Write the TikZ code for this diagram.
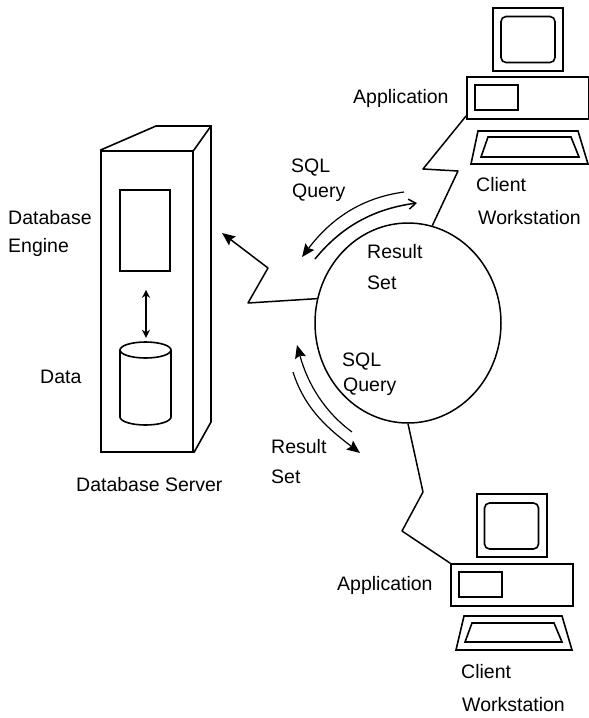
\documentclass[tikz,border=0pt]{standalone}
\usepackage{fontspec}
\setmainfont{Liberation Sans}
\usetikzlibrary{positioning}
\usetikzlibrary{arrows.meta}
\usetikzlibrary{shapes.geometric}

\begin{document}
\begin{tikzpicture}[
        x=1pt, y=-1pt,
        box/.style={rectangle, draw=black, line width=1.6pt, inner sep=0pt},
        monitor/.style={box, minimum width=70pt, minimum height=63pt},
        screen/.style={box, rounded corners=5pt, minimum width=54pt, minimum height=46pt},
        cpu/.style={box, minimum width=122pt, minimum height=42pt},
        slot/.style={box, minimum width=43pt, minimum height=25pt},
        label/.style={inner sep=0pt, anchor=west, font=\fontsize{19.5}{22}\selectfont},
        link/.style={black, line width=1.5pt, line join=round},
        flow/.style={black, line width=1.2pt},
        solid tip/.style={-{Stealth[length=13pt, width=11pt, inset=2pt]}}
      ]
        \useasboundingbox (0,0) rectangle (589,718);

        % server
        \node[box, minimum width=92pt, minimum height=301pt] (server) at (147,301.5) {};
        \coordinate (backleft)  at (156,126);
        \coordinate (backright) at (211,126);
        \coordinate (backlow)   at (211,422);
        \draw[box] (server.north west) -- (backleft) -- (backright) -- (backlow) -- (server.south east);
        \draw[box] (server.north east) -- (backright);
        \node[box, minimum width=50pt, minimum height=81pt] (engine) at (145,230.5) {};

        \coordinate (datatop)    at (145.5,350);
        \coordinate (databottom) at (145.5,417);
        \draw[box] (datatop) ellipse (25.5pt and 8pt);
        \draw[box] ([xshift=-25.5pt]datatop) -- ([xshift=-25.5pt]databottom)
                   arc[start angle=180, end angle=360, x radius=25.5pt, y radius=8pt]
                   -- ([xshift=25.5pt]datatop);
        \node[inner sep=0pt, minimum width=51pt, minimum height=83pt] (data) at (145.5,383.5) {};
        \draw[black, {Stealth[length=8pt, width=8pt]}-{Stealth[length=8pt, width=8pt]}, line width=1.4pt]
             ([xshift=1pt,yshift=-18pt]engine.south) -- ([xshift=0.5pt,yshift=4pt]data.north);

        \node[label] (enginelabel)  at (8,218)  {Database};
        \node[label] (enginelabelb) at (8,247)  {Engine};
        \node[label] (datalabel)    at (40,377) {Data};
        \node[label] (serverlabel)  at (76,485) {Database Server};

        % network
        \node[ellipse, draw=black, line width=1.5pt, inner sep=0pt, minimum width=186pt, minimum height=200pt] (net) at (408,323) {};

        \coordinate (serverbenda) at (248,303);
        \coordinate (serverbendb) at (268,268);
        \coordinate (servertip)   at (222,233);
        \draw[link, solid tip] (net.165) -- (serverbenda) -- (serverbendb) -- (servertip);

        % top client
        \node[monitor] (monitora) at (528,39.5) {};
        \node[screen]  (screena)  at (528,39.5) {};
        \node[cpu]     (cpua)     at (528,98)   {};
        \node[slot]    (slota)    at (496.5,97.5) {};
        \draw[box] (478,131) -- (578,131) -- (588,164) -- (471,164) -- cycle;
        \draw[box] (488,137) -- (571,137) -- (579,157) -- (481,157) -- cycle;
        \coordinate (topbenda) at (458,171);
        \coordinate (topbendb) at (423,169);
        \draw[link] (net.76) -- (topbenda) -- (topbendb) -- ([yshift=4pt]cpua.south west);

        \node[label] (appa)     at (353,98)  {Application};
        \node[label] (clienta)  at (476,185) {Client};
        \node[label] (worka)    at (478,218) {Workstation};

        % bottom client
        \node[monitor] (monitorb) at (512,525.5) {};
        \node[screen]  (screenb)  at (511.5,526) {};
        \node[cpu]     (cpub)     at (512,585)   {};
        \node[slot]    (slotb)    at (480.5,584.5) {};
        \draw[box] (464,616) -- (562,616) -- (572,650) -- (456,650) -- cycle;
        \draw[box] (472,623) -- (554,623) -- (562,642) -- (465,642) -- cycle;
        \coordinate (lowbenda) at (423,492);
        \coordinate (lowbendb) at (402,531);
        \draw[link] (net.south) -- (lowbenda) -- (lowbendb) -- (cpub.north west);

        \node[label] (appb)     at (337,585) {Application};
        \node[label] (clientb)  at (461,672) {Client};
        \node[label] (workb)    at (462,705) {Workstation};

        % flows
        \coordinate (queryastart) at (404,192);
        \coordinate (queryaend)   at (302,257);
        \coordinate (resultastart) at (315,259);
        \coordinate (resultaend)  at (417,203);
        \coordinate (querybstart) at (352,432);
        \coordinate (querybend)   at (297,345);
        \coordinate (resultbstart) at (293,372);
        \coordinate (resultbend)  at (360,453);
        \draw[flow, solid tip] (queryastart) .. controls (360,198) and (330,220) .. (queryaend);
        \draw[flow, -{Straight Barb[length=7pt, width=10pt]}, line width=1.5pt] (resultastart) .. controls (345,222) and (380,208) .. (resultaend);
        \draw[flow, solid tip] (querybstart) .. controls (325,412) and (308,385) .. (querybend);
        \draw[flow, solid tip] (resultbstart) .. controls (305,410) and (330,430) .. (resultbend);

        \node[label] (sqla)     at (291,168) {SQL};
        \node[label] (querya)   at (292,193) {Query};
        \node[label] (resulta)  at (367,252) {Result};
        \node[label] (seta)     at (367,283) {Set};
        \node[label] (sqlb)     at (342,362) {SQL};
        \node[label] (queryb)   at (343,387) {Query};
        \node[label] (resultb)  at (271,447) {Result};
        \node[label] (setb)     at (271,477) {Set};
      \end{tikzpicture}
\end{document}
